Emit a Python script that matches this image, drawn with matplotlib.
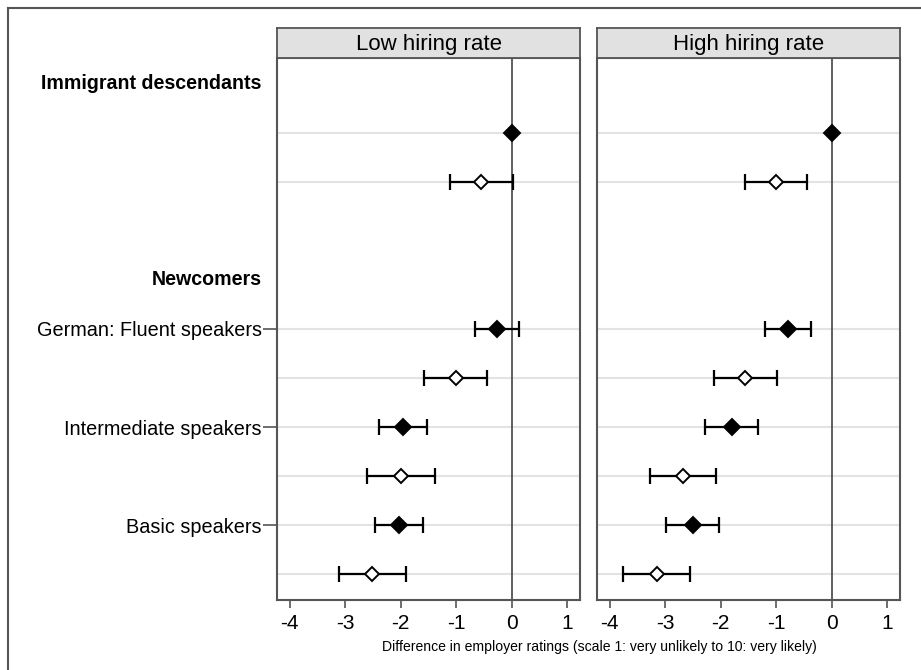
import matplotlib
matplotlib.use('Agg')
import matplotlib.pyplot as plt
from matplotlib.lines import Line2D

plt.rcParams['font.family'] = ['Liberation Sans', 'DejaVu Sans']

# row slots, top to bottom
group_labels = ['Immigrant descendants', 'Newcomers']
group_rows = [0, 4]
tick_labels = ['German: Fluent speakers', 'Intermediate speakers', 'Basic speakers']
tick_rows = [5, 7, 9]
rows = [1, 2, 5, 6, 7, 8, 9, 10]
filled = [True, False, True, False, True, False, True, False]

panel_titles = ['Low hiring rate', 'High hiring rate']

low_est = [0, -0.55, -0.27, -1.01, -1.96, -1.99, -2.03, -2.51]
low_lo = [0, -1.11, -0.66, -1.58, -2.40, -2.61, -2.46, -3.12]
low_hi = [0, 0.02, 0.13, -0.44, -1.52, -1.39, -1.60, -1.91]

high_est = [0, -1.01, -0.79, -1.56, -1.80, -2.68, -2.50, -3.15]
high_lo = [0, -1.57, -1.21, -2.13, -2.28, -3.28, -2.98, -3.76]
high_hi = [0, -0.44, -0.38, -0.98, -1.33, -2.08, -2.04, -2.55]

xticks = [-4, -3, -2, -1, 0, 1]
xlabel = 'Difference in employer ratings (scale 1: very unlikely to 10: very likely)'

W, H = 921, 670
fig = plt.figure(figsize=(W / 100, H / 100), dpi=100)

# outer frame (only left and top edges are visible in the crop)
fx, fy = 7.5 / W, 1 - 7.5 / H
fig.lines.append(Line2D([fx, fx], [0, fy], transform=fig.transFigure, color='#555555', lw=1.5))
fig.lines.append(Line2D([fx, 1], [fy, fy], transform=fig.transFigure, color='#555555', lw=1.5))

spine_col = '#555555'
panels = [(277, 580, low_est, low_lo, low_hi), (597, 900, high_est, high_lo, high_hi)]
top_px, bot_px, head_px = 58, 600, 28

for i, (x0, x1, est, lo, hi) in enumerate(panels):
    ax = fig.add_axes([x0 / W, 1 - bot_px / H, (x1 - x0) / W, (bot_px - top_px) / H])
    hx = fig.add_axes([x0 / W, 1 - top_px / H, (x1 - x0) / W, (top_px - head_px) / H])
    hx.set_facecolor('#e1e1e1')
    hx.set_xticks([]); hx.set_yticks([])
    for s in hx.spines.values():
        s.set_color(spine_col); s.set_linewidth(1.3)
    hx.text(0.5, 0.45, panel_titles[i], ha='center', va='center', fontsize=16,
            transform=hx.transAxes)

    for r in rows:
        ax.axhline(r, color='#e3e3e3', lw=1.5, zorder=0)
    ax.axvline(0, color='#444444', lw=1.2, zorder=1)

    for r, e, l, h, f in zip(rows, est, lo, hi, filled):
        if h > l:
            ax.errorbar([e], [r], xerr=[[e - l], [h - e]], fmt='none', ecolor='black',
                        elinewidth=1.6, capsize=5.5, capthick=1.6, zorder=2)
        ax.plot([e], [r], marker='D', markersize=8 if f else 7.2,
                markerfacecolor='black' if f else 'white', markeredgecolor='black',
                markeredgewidth=1.4, linestyle='none', zorder=3)

    ax.set_xlim(-4.23, 1.23)
    ax.set_ylim(10.53, -0.53)
    ax.set_xticks(xticks)
    ax.set_xticklabels([str(t) for t in xticks])
    ax.tick_params(axis='x', length=6, width=1.2, color=spine_col, labelsize=15, pad=4)
    for s in ax.spines.values():
        s.set_color(spine_col); s.set_linewidth(1.5)

    if i == 0:
        ax.set_yticks(tick_rows)
        ax.set_yticklabels(tick_labels)
        ax.tick_params(axis='y', length=10, width=1.2, color=spine_col, labelsize=14.3, pad=1)
        for g, r in zip(group_labels, group_rows):
            ax.annotate(g, xy=(0, r), xycoords=('axes fraction', 'data'), xytext=(-11, 0),
                        textcoords='offset points', ha='right', va='center',
                        fontsize=14.1, fontweight='bold')
    else:
        ax.set_yticks([])

fig.text(599.5 / W, 1 - 646.7 / H, xlabel, ha='center', va='center', fontsize=10.1)

fig.savefig('out.png', dpi=100)
